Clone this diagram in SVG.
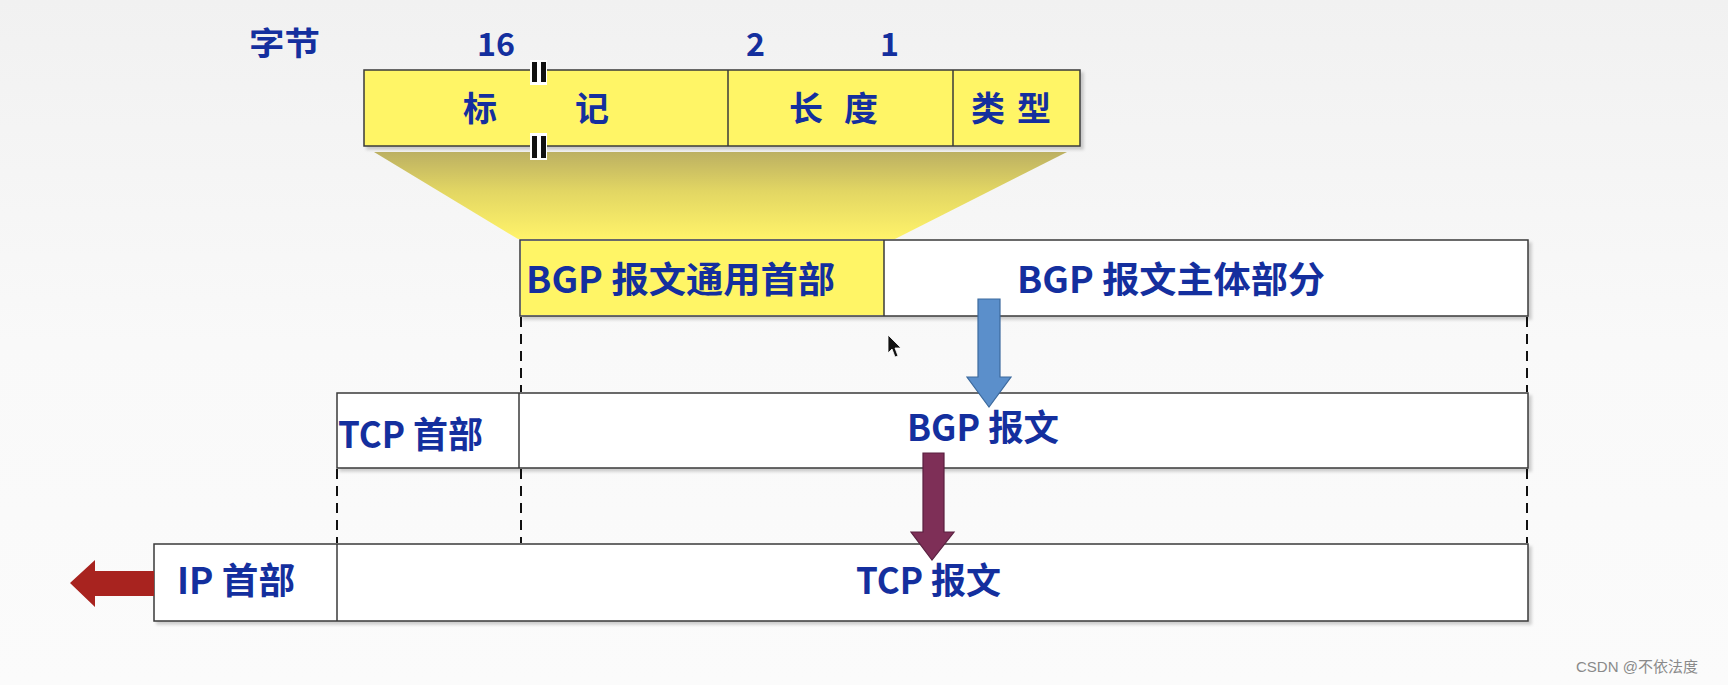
<svg xmlns="http://www.w3.org/2000/svg" width="1728" height="685" viewBox="0 0 1728 685">
  <defs>
    <linearGradient id="bg" x1="0" y1="0" x2="0" y2="1">
      <stop offset="0" stop-color="#f1f1f1"/>
      <stop offset="0.5" stop-color="#f9f9f9"/>
      <stop offset="1" stop-color="#fbfbfb"/>
    </linearGradient>
    <linearGradient id="trap" x1="0" y1="0" x2="0" y2="1">
      <stop offset="0" stop-color="#bcb062"/>
      <stop offset="0.45" stop-color="#e2d663"/>
      <stop offset="1" stop-color="#fff36a"/>
    </linearGradient>
    <filter id="sh" x="-5%" y="-20%" width="110%" height="150%">
      <feDropShadow dx="3" dy="3" stdDeviation="1.5" flood-color="#000" flood-opacity="0.18"/>
    </filter>
  </defs>
  <style>
    .box{fill:#ffffff;stroke:#3a3a3a;stroke-width:1.5}
    .yel{fill:#fff566}
    .div{stroke:#3a3a3a;stroke-width:1.5}
    .t{font-family:"Noto Sans CJK SC","Noto Sans",sans-serif;font-weight:bold;fill:#142f9e}
    .big{font-size:36px}
    .mid{font-size:32px}
    .cell{font-size:34px}
    .dash{stroke:#111;stroke-width:2;stroke-dasharray:10 7;fill:none}
    .wm{font-family:"Liberation Sans","Noto Sans CJK SC",sans-serif;font-size:15px;fill:#8a8a8a}
  </style>
  <rect x="0" y="0" width="1728" height="685" fill="url(#bg)"/>

  <!-- byte counts -->
  <g id="byte-labels">
    <text class="t mid" x="249" y="55" textLength="71" lengthAdjust="spacingAndGlyphs">字节</text>
    <text class="t mid" x="477" y="56" textLength="38" lengthAdjust="spacingAndGlyphs">16</text>
    <text class="t mid" x="746" y="56" textLength="19" lengthAdjust="spacingAndGlyphs">2</text>
    <text class="t mid" x="880" y="56" textLength="19" lengthAdjust="spacingAndGlyphs">1</text>
  </g>

  <!-- projection trapezoid -->
  <polygon id="projection" points="374,152 1067,152 895,239 518,239" fill="url(#trap)"/>

  <!-- BGP common header -->
  <g id="bgp-header">
    <rect x="364" y="70" width="716" height="76" class="yel" stroke="#3a3a3a" stroke-width="1.5" filter="url(#sh)"/>
    <line class="div" x1="728" y1="70" x2="728" y2="146"/>
    <line class="div" x1="953" y1="70" x2="953" y2="146"/>
    <text class="t cell" x="480" y="121" text-anchor="middle">标</text>
    <text class="t cell" x="592" y="121" text-anchor="middle">记</text>
    <text class="t cell" x="806" y="121" text-anchor="middle">长</text>
    <text class="t cell" x="861" y="121" text-anchor="middle">度</text>
    <text class="t cell" x="988" y="121" text-anchor="middle">类</text>
    <text class="t cell" x="1034" y="121" text-anchor="middle">型</text>
    <g id="break-marks">
      <rect x="530" y="60" width="17" height="25" fill="#fff"/>
      <rect x="532" y="62" width="5" height="20" fill="#111"/>
      <rect x="541" y="62" width="5" height="20" fill="#111"/>
      <rect x="530" y="133" width="17" height="27" fill="#fff"/>
      <rect x="532" y="136" width="5" height="22" fill="#111"/>
      <rect x="541" y="136" width="5" height="22" fill="#111"/>
    </g>
  </g>

  <!-- BGP message -->
  <g id="bgp-message">
    <rect x="520" y="240" width="1008" height="76" class="box" filter="url(#sh)"/>
    <rect x="521" y="241" width="363" height="74" class="yel"/>
    <line class="div" x1="884" y1="240" x2="884" y2="316"/>
    <text class="t big" x="526" y="293" textLength="309" lengthAdjust="spacingAndGlyphs">BGP 报文通用首部</text>
    <text class="t big" x="1017" y="293" textLength="308" lengthAdjust="spacingAndGlyphs">BGP 报文主体部分</text>
  </g>

  <!-- TCP segment -->
  <g id="tcp-segment">
    <rect x="337" y="393" width="1191" height="75" class="box" filter="url(#sh)"/>
    <line class="div" x1="519" y1="393" x2="519" y2="468"/>
    <text class="t big" x="338" y="448" textLength="145" lengthAdjust="spacingAndGlyphs">TCP 首部</text>
    <text class="t big" x="907" y="441" textLength="152" lengthAdjust="spacingAndGlyphs">BGP 报文</text>
  </g>

  <!-- IP datagram -->
  <g id="ip-datagram">
    <rect x="154" y="544" width="1374" height="77" class="box" filter="url(#sh)"/>
    <line class="div" x1="337" y1="544" x2="337" y2="621"/>
    <text class="t big" x="177" y="594" textLength="118" lengthAdjust="spacingAndGlyphs">IP 首部</text>
    <text class="t big" x="856" y="594" textLength="145" lengthAdjust="spacingAndGlyphs">TCP 报文</text>
  </g>

  <!-- connectors -->
  <g id="connectors">
    <line class="dash" x1="521" y1="317" x2="521" y2="392"/>
    <line class="dash" x1="1527" y1="317" x2="1527" y2="392"/>
    <line class="dash" x1="337" y1="469" x2="337" y2="543"/>
    <line class="dash" x1="521" y1="469" x2="521" y2="543"/>
    <line class="dash" x1="1527" y1="469" x2="1527" y2="543"/>
    <polygon id="arrow-blue" points="978,299 1000,299 1000,377 1011,377 989,407 967,377 978,377" fill="#5b8fcb" stroke="#3c6a9e" stroke-width="1.2"/>
    <polygon id="arrow-purple" points="923,453 944,453 944,532 954,532 932,560 911,532 923,532" fill="#7e2f57" stroke="#5a2040" stroke-width="1.2"/>
    <polygon id="arrow-red" points="154,571 95,571 95,560 70,583 95,607 95,596 154,596" fill="#a8231f"/>
  </g>

  <!-- mouse cursor -->
  <polygon points="888,335 888,353 892,349 895,357 898,356 895,348 901,348" fill="#111" stroke="#fff" stroke-width="0.8"/>

  <text class="wm" x="1576" y="672">CSDN @不依法度</text>
</svg>
